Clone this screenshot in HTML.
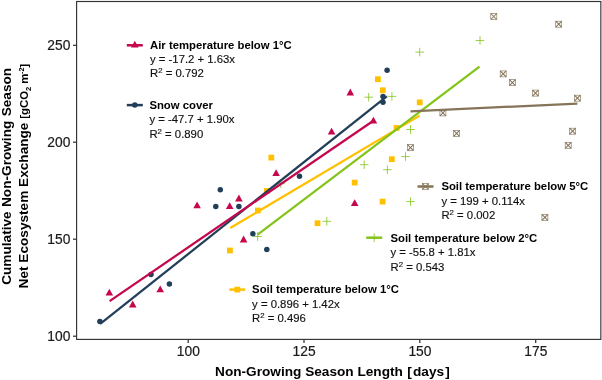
<!DOCTYPE html>
<html><head><meta charset="utf-8"><title>chart</title>
<style>
html,body{margin:0;padding:0;background:#fff;}
svg{display:block;font-family:"Liberation Sans",sans-serif;}
svg{will-change:transform;}
.tk{font-size:13.8px;fill:#1a1a1a;stroke:#1a1a1a;stroke-width:0.2px;}
.lg{font-size:11.33px;fill:#111;stroke:#111;stroke-width:0.15px;}
.lb{font-size:11.33px;font-weight:bold;fill:#000;}
.ax{font-size:13.63px;font-weight:bold;fill:#000;}
</style></head><body>
<svg width="602" height="380" viewBox="0 0 602 380">
<rect width="602" height="380" fill="#fff"/>
<circle cx="99.9" cy="321.4" r="2.75" fill="#223F59"/>
<circle cx="151.0" cy="274.5" r="2.75" fill="#223F59"/>
<circle cx="169.4" cy="284.0" r="2.75" fill="#223F59"/>
<circle cx="215.8" cy="206.6" r="2.75" fill="#223F59"/>
<circle cx="220.3" cy="189.7" r="2.75" fill="#223F59"/>
<circle cx="238.9" cy="206.6" r="2.75" fill="#223F59"/>
<circle cx="252.9" cy="233.8" r="2.75" fill="#223F59"/>
<circle cx="266.8" cy="249.6" r="2.75" fill="#223F59"/>
<circle cx="299.5" cy="176.3" r="2.75" fill="#223F59"/>
<circle cx="383.0" cy="96.5" r="2.75" fill="#223F59"/>
<circle cx="383.0" cy="102.3" r="2.75" fill="#223F59"/>
<circle cx="387.1" cy="70.3" r="2.75" fill="#223F59"/>
<path d="M109.3 288.8L113.1 295.6L105.5 295.6Z" fill="#C5074D"/>
<path d="M132.7 300.6L136.5 307.4L128.9 307.4Z" fill="#C5074D"/>
<path d="M160.2 285.4L164.0 292.2L156.4 292.2Z" fill="#C5074D"/>
<path d="M197.1 201.4L200.9 208.2L193.3 208.2Z" fill="#C5074D"/>
<path d="M229.7 202.2L233.5 209.0L225.9 209.0Z" fill="#C5074D"/>
<path d="M238.9 194.6L242.7 201.4L235.1 201.4Z" fill="#C5074D"/>
<path d="M243.6 235.6L247.4 242.4L239.8 242.4Z" fill="#C5074D"/>
<path d="M276.1 169.3L279.9 176.1L272.3 176.1Z" fill="#C5074D"/>
<path d="M331.6 127.7L335.4 134.5L327.8 134.5Z" fill="#C5074D"/>
<path d="M350.3 88.6L354.1 95.4L346.5 95.4Z" fill="#C5074D"/>
<path d="M354.7 199.3L358.5 206.1L350.9 206.1Z" fill="#C5074D"/>
<path d="M373.4 116.7L377.2 123.5L369.6 123.5Z" fill="#C5074D"/>
<rect x="227.0" y="247.6" width="5.8" height="5.8" fill="#FFC000"/>
<rect x="255.0" y="207.6" width="5.8" height="5.8" fill="#FFC000"/>
<rect x="264.0" y="188.1" width="5.8" height="5.8" fill="#FFC000"/>
<rect x="268.4" y="154.7" width="5.8" height="5.8" fill="#FFC000"/>
<rect x="314.6" y="220.3" width="5.8" height="5.8" fill="#FFC000"/>
<rect x="351.8" y="179.7" width="5.8" height="5.8" fill="#FFC000"/>
<rect x="375.0" y="76.3" width="5.8" height="5.8" fill="#FFC000"/>
<rect x="379.9" y="87.4" width="5.8" height="5.8" fill="#FFC000"/>
<rect x="379.7" y="198.7" width="5.8" height="5.8" fill="#FFC000"/>
<rect x="388.9" y="156.3" width="5.8" height="5.8" fill="#FFC000"/>
<rect x="393.7" y="125.1" width="5.8" height="5.8" fill="#FFC000"/>
<rect x="416.8" y="99.5" width="5.8" height="5.8" fill="#FFC000"/>
<path d="M253.3 236.5H261.9M257.6 232.2V240.8" stroke="#84C41A" stroke-width="0.8" fill="none"/>
<path d="M276.5 183.7H285.1M280.8 179.4V188.0" stroke="#84C41A" stroke-width="0.8" fill="none"/>
<path d="M322.5 221.3H331.1M326.8 217.0V225.6" stroke="#84C41A" stroke-width="0.8" fill="none"/>
<path d="M359.9 164.7H368.5M364.2 160.4V169.0" stroke="#84C41A" stroke-width="0.8" fill="none"/>
<path d="M364.4 97.2H373.0M368.7 92.9V101.5" stroke="#84C41A" stroke-width="0.8" fill="none"/>
<path d="M383.1 169.7H391.7M387.4 165.4V174.0" stroke="#84C41A" stroke-width="0.8" fill="none"/>
<path d="M387.6 96.4H396.2M391.9 92.1V100.7" stroke="#84C41A" stroke-width="0.8" fill="none"/>
<path d="M401.2 156.6H409.8M405.5 152.3V160.9" stroke="#84C41A" stroke-width="0.8" fill="none"/>
<path d="M406.2 129.5H414.8M410.5 125.2V133.8" stroke="#84C41A" stroke-width="0.8" fill="none"/>
<path d="M406.2 201.6H414.8M410.5 197.3V205.9" stroke="#84C41A" stroke-width="0.8" fill="none"/>
<path d="M415.4 52.1H424.0M419.7 47.8V56.4" stroke="#84C41A" stroke-width="0.8" fill="none"/>
<path d="M475.7 40.5H484.3M480.0 36.2V44.8" stroke="#84C41A" stroke-width="0.8" fill="none"/>
<rect x="407.5" y="144.6" width="6" height="6" stroke="#857459" stroke-width="0.65" fill="none"/><path d="M407.5 144.6l6 6m0 -6l-6 6" stroke="#857459" stroke-width="1.05" fill="none"/>
<rect x="439.9" y="109.9" width="6" height="6" stroke="#857459" stroke-width="0.65" fill="none"/><path d="M439.9 109.9l6 6m0 -6l-6 6" stroke="#857459" stroke-width="1.05" fill="none"/>
<rect x="453.6" y="130.4" width="6" height="6" stroke="#857459" stroke-width="0.65" fill="none"/><path d="M453.6 130.4l6 6m0 -6l-6 6" stroke="#857459" stroke-width="1.05" fill="none"/>
<rect x="490.8" y="13.5" width="6" height="6" stroke="#857459" stroke-width="0.65" fill="none"/><path d="M490.8 13.5l6 6m0 -6l-6 6" stroke="#857459" stroke-width="1.05" fill="none"/>
<rect x="500.2" y="70.9" width="6" height="6" stroke="#857459" stroke-width="0.65" fill="none"/><path d="M500.2 70.9l6 6m0 -6l-6 6" stroke="#857459" stroke-width="1.05" fill="none"/>
<rect x="509.4" y="79.6" width="6" height="6" stroke="#857459" stroke-width="0.65" fill="none"/><path d="M509.4 79.6l6 6m0 -6l-6 6" stroke="#857459" stroke-width="1.05" fill="none"/>
<rect x="532.5" y="90.1" width="6" height="6" stroke="#857459" stroke-width="0.65" fill="none"/><path d="M532.5 90.1l6 6m0 -6l-6 6" stroke="#857459" stroke-width="1.05" fill="none"/>
<rect x="541.9" y="214.3" width="6" height="6" stroke="#857459" stroke-width="0.65" fill="none"/><path d="M541.9 214.3l6 6m0 -6l-6 6" stroke="#857459" stroke-width="1.05" fill="none"/>
<rect x="555.7" y="21.2" width="6" height="6" stroke="#857459" stroke-width="0.65" fill="none"/><path d="M555.7 21.2l6 6m0 -6l-6 6" stroke="#857459" stroke-width="1.05" fill="none"/>
<rect x="565.2" y="142.3" width="6" height="6" stroke="#857459" stroke-width="0.65" fill="none"/><path d="M565.2 142.3l6 6m0 -6l-6 6" stroke="#857459" stroke-width="1.05" fill="none"/>
<rect x="569.6" y="128.2" width="6" height="6" stroke="#857459" stroke-width="0.65" fill="none"/><path d="M569.6 128.2l6 6m0 -6l-6 6" stroke="#857459" stroke-width="1.05" fill="none"/>
<rect x="574.4" y="95.2" width="6" height="6" stroke="#857459" stroke-width="0.65" fill="none"/><path d="M574.4 95.2l6 6m0 -6l-6 6" stroke="#857459" stroke-width="1.05" fill="none"/>
<line x1="100.2" y1="323.9" x2="386.8" y2="96.3" stroke="#223F59" stroke-width="2.25"/>
<line x1="109.6" y1="301.1" x2="373.4" y2="120.7" stroke="#C5074D" stroke-width="2.25"/>
<line x1="230.2" y1="228" x2="419.7" y2="115.6" stroke="#FFC000" stroke-width="2.25"/>
<line x1="257.6" y1="234.6" x2="479.5" y2="66.6" stroke="#84C41A" stroke-width="2.25"/>
<line x1="410.5" y1="111.45" x2="577.4" y2="103.55" stroke="#857459" stroke-width="2.25"/>
<rect x="76.6" y="1.5" width="524.25" height="337.9" fill="none" stroke="#333" stroke-width="1.15"/>
<line x1="73" x2="76.6" y1="45.3" y2="45.3" stroke="#333" stroke-width="1.25"/>
<line x1="73" x2="76.6" y1="142.2" y2="142.2" stroke="#333" stroke-width="1.25"/>
<line x1="73" x2="76.6" y1="239.2" y2="239.2" stroke="#333" stroke-width="1.25"/>
<line x1="73" x2="76.6" y1="336.2" y2="336.2" stroke="#333" stroke-width="1.25"/>
<line x1="188.2" x2="188.2" y1="339.5" y2="343" stroke="#333" stroke-width="1.25"/>
<line x1="304.0" x2="304.0" y1="339.5" y2="343" stroke="#333" stroke-width="1.25"/>
<line x1="419.8" x2="419.8" y1="339.5" y2="343" stroke="#333" stroke-width="1.25"/>
<line x1="535.7" x2="535.7" y1="339.5" y2="343" stroke="#333" stroke-width="1.25"/>
<text class="tk" x="70.4" y="50.40" text-anchor="end">250</text>
<text class="tk" x="70.4" y="147.30" text-anchor="end">200</text>
<text class="tk" x="70.4" y="244.30" text-anchor="end">150</text>
<text class="tk" x="70.4" y="341.30" text-anchor="end">100</text>
<text class="tk" x="188.3" y="355.8" text-anchor="middle">100</text>
<text class="tk" x="304.1" y="355.8" text-anchor="middle">125</text>
<text class="tk" x="419.9" y="355.8" text-anchor="middle">150</text>
<text class="tk" x="535.8" y="355.8" text-anchor="middle">175</text>
<text class="ax" x="215.1" y="375.5">Non-Growing Season Length<tspan x="407.2">[</tspan><tspan x="413">days</tspan><tspan x="445.3">]</tspan></text>
<text class="ax" transform="translate(11.3,284.8) rotate(-90)" word-spacing="0.6">Cumulative Non-Growing Season</text>
<text class="ax" transform="translate(28.3,288.4) rotate(-90)">Net Ecosystem Exchange <tspan font-size="11.4px">[gCO<tspan font-size="7.6px" dy="2.3">2</tspan><tspan dy="-2.3" dx="-0.2"> m</tspan><tspan font-size="7.2px" dy="-4.4" dx="-0.3">-2</tspan><tspan dy="4.4" dx="-0.3">]</tspan></tspan></text>
<path d="M134.8 40.8L138.6 47.6L131.0 47.6Z" fill="#C5074D"/>
<line x1="126.80000000000001" x2="142.8" y1="45.3" y2="45.3" stroke="#C5074D" stroke-width="2.5"/>
<text class="lb" x="150" y="49.4">Air temperature below 1°C</text>
<text class="lg" x="150" y="63.2">y = -17.2 + 1.63x</text>
<text class="lg" x="150" y="77.3">R<tspan font-size="7.8px" dy="-3.9">2</tspan><tspan dy="3.9"> = 0.792</tspan></text>
<circle cx="134.8" cy="105.1" r="2.75" fill="#223F59"/>
<line x1="126.80000000000001" x2="142.8" y1="105.1" y2="105.1" stroke="#223F59" stroke-width="2.5"/>
<text class="lb" x="149.4" y="108.6">Snow cover</text>
<text class="lg" x="149.4" y="123.4">y = -47.7 + 1.90x</text>
<text class="lg" x="149.4" y="137.5">R<tspan font-size="7.8px" dy="-3.9">2</tspan><tspan dy="3.9"> = 0.890</tspan></text>
<rect x="234.4" y="286.7" width="5.8" height="5.8" fill="#FFC000"/>
<line x1="229.3" x2="245.3" y1="289.6" y2="289.6" stroke="#FFC000" stroke-width="2.5"/>
<text class="lb" x="252.1" y="293">Soil temperature below 1°C</text>
<text class="lg" x="252.1" y="307.5">y = 0.896 + 1.42x</text>
<text class="lg" x="252.1" y="321.9">R<tspan font-size="7.8px" dy="-3.9">2</tspan><tspan dy="3.9"> = 0.496</tspan></text>
<path d="M369.9 237.7H378.5M374.2 233.4V242.0" stroke="#84C41A" stroke-width="0.8" fill="none"/>
<line x1="366.2" x2="382.2" y1="237.7" y2="237.7" stroke="#84C41A" stroke-width="2.5"/>
<text class="lb" x="390.5" y="241.7">Soil temperature below 2°C</text>
<text class="lg" x="390.5" y="256.1">y = -55.8 + 1.81x</text>
<text class="lg" x="390.5" y="270.5">R<tspan font-size="7.8px" dy="-3.9">2</tspan><tspan dy="3.9"> = 0.543</tspan></text>
<rect x="422.5" y="183.5" width="6" height="6" stroke="#857459" stroke-width="0.65" fill="none"/><path d="M422.5 183.5l6 6m0 -6l-6 6" stroke="#857459" stroke-width="1.05" fill="none"/>
<line x1="417.5" x2="433.5" y1="186.5" y2="186.5" stroke="#857459" stroke-width="2.5"/>
<text class="lb" x="441.4" y="190">Soil temperature below 5°C</text>
<text class="lg" x="441.4" y="204.6">y = 199 + 0.114x</text>
<text class="lg" x="441.4" y="219.0">R<tspan font-size="7.8px" dy="-3.9">2</tspan><tspan dy="3.9"> = 0.002</tspan></text>
</svg></body></html>
